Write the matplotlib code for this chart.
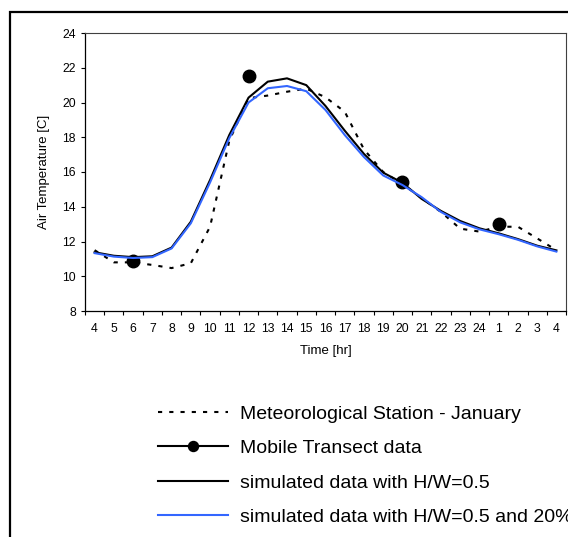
import numpy as np
import matplotlib
matplotlib.use("Agg")
import matplotlib.pyplot as plt
from matplotlib.patches import Rectangle

plt.rcParams['font.family'] = ['Liberation Sans', 'DejaVu Sans']

hours = ["4", "5", "6", "7", "8", "9", "10", "11", "12", "13", "14", "15", "16",
         "17", "18", "19", "20", "21", "22", "23", "24", "1", "2", "3", "4"]

met_station = [11.5, 10.8, 10.8, 10.65, 10.47, 10.75, 12.85, 17.8, 20.25, 20.4, 20.62,
               20.8, 20.3, 19.47, 17.3, 16.0, 15.3, 14.5, 13.7, 12.74, 12.57, 12.85,
               12.85, 12.18, 11.5]

mobile = [np.nan, np.nan, 10.9, np.nan, np.nan, np.nan, np.nan, np.nan, 21.5, np.nan,
          np.nan, np.nan, np.nan, np.nan, np.nan, np.nan, 15.4, np.nan, np.nan, np.nan,
          np.nan, 13.0, np.nan, np.nan, np.nan]

sim_hw05 = [11.38, 11.18, 11.1, 11.15, 11.65, 13.14, 15.54, 18.13, 20.28, 21.2, 21.39,
            21.0, 19.8, 18.38, 17.04, 15.96, 15.38, 14.45, 13.76, 13.18, 12.76, 12.47,
            12.14, 11.76, 11.49]

sim_hw05_20 = [11.33, 11.13, 11.05, 11.1, 11.6, 13.05, 15.4, 17.95, 20.0, 20.82, 20.95,
               20.65, 19.57, 18.13, 16.86, 15.8, 15.25, 14.55, 13.7, 13.1, 12.7, 12.42,
               12.1, 11.72, 11.42]

x = np.arange(len(hours))

fig = plt.figure(figsize=(5.68, 5.37), dpi=100)
W, H = 568, 537
ax = fig.add_axes([85 / W, 1 - 311 / H, (566 - 85) / W, (311 - 33) / H])

l1, = ax.plot(x, met_station, color='black', lw=1.5, linestyle=(0, (2.0, 3.4)),
              label='Meteorological Station - January')
l2, = ax.plot(x, mobile, color='black', lw=1.5, marker='o', markersize=9,
              label='Mobile Transect data')
l3, = ax.plot(x, sim_hw05, color='black', lw=1.5, label='simulated data with H/W=0.5')
l4, = ax.plot(x, sim_hw05_20, color='#3366ff', lw=1.5,
              label='simulated data with H/W=0.5 and 20%')

ax.set_xlim(-0.5, len(hours) - 0.5)
ax.set_ylim(8, 24)
ax.set_yticks(np.arange(8, 25, 2))
ax.set_xticks(x)
ax.set_xticklabels(hours)
ax.set_xticks(np.arange(-0.5, len(hours), 1), minor=True)
ax.tick_params(axis='x', which='major', length=0, labelsize=8.8, pad=8.5)
ax.tick_params(axis='x', which='minor', length=3, width=0.8, direction='out')
ax.tick_params(axis='y', which='major', length=3, width=0.8, direction='out', labelsize=8.8, pad=3.5)
for s in ['top', 'right']:
    ax.spines[s].set_color('#404040')
    ax.spines[s].set_linewidth(0.8)
for s in ['left', 'bottom']:
    ax.spines[s].set_linewidth(0.9)

ax.set_xlabel('Time [hr]', fontsize=9.5, labelpad=7)
ax.set_ylabel('Air Temperature [C]', fontsize=9.5, labelpad=9)

leg = fig.legend(handles=[l1, l2, l3, l4], loc='upper left',
                 bbox_to_anchor=(158 / W, 1 - 405 / H), frameon=False,
                 fontsize=14, handlelength=3.6, handletextpad=0.62,
                 labelspacing=0.87, borderpad=0, borderaxespad=0, markerscale=0.8)

fig.patches.append(Rectangle((10 / W, -0.1), 1.2, 1 - 12 / H + 0.1, transform=fig.transFigure,
                             fill=False, edgecolor='black', lw=1.6, clip_on=False))

fig.savefig('out.png', dpi=100)
